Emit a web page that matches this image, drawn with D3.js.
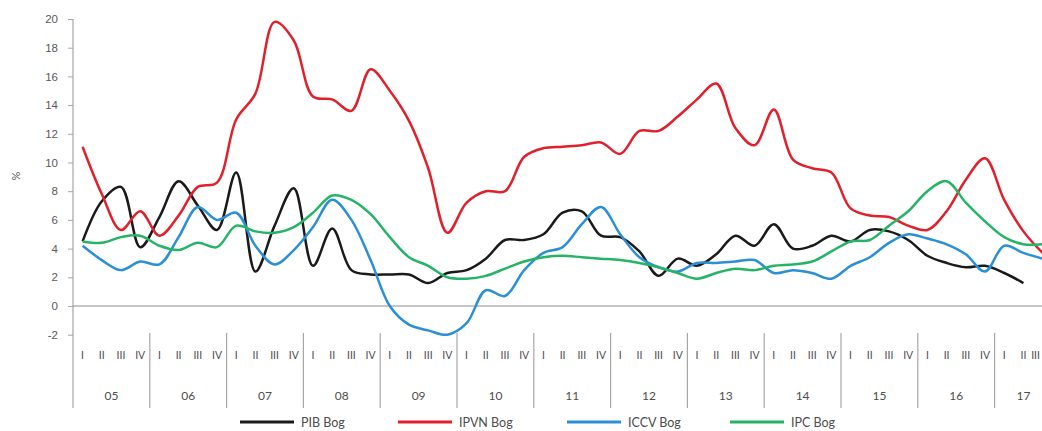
<!DOCTYPE html>
<html>
<head>
<meta charset="utf-8">
<script src="https://cdn.jsdelivr.net/npm/d3@7.9.0/dist/d3.min.js"></script>
<style>
  body { margin: 0; background: #fff; }
  svg { display: block; font-family: Lato, "Open Sans", sans-serif; }
</style>
</head>
<body>
<svg id="chart" width="1042" height="431"></svg>
<script>
// years and quarter labels for the category axis (2005 Q1 .. 2017 Q3)
const years = ['05', '06', '07', '08', '09', '10', '11', '12', '13', '14', '15', '16', '17'];
const quarters = ['I', 'II', 'III', 'IV'];
const yTicks = [-2, 0, 2, 4, 6, 8, 10, 12, 14, 16, 18, 20];

// series values, one per quarter
const pib = [4.5, 7.3, 8.3, 4.1, 6.2, 8.7, 7.0, 5.3, 9.3, 2.4, 5.6, 8.2, 2.8, 5.4, 2.5, 2.2,
  2.2, 2.2, 1.6, 2.3, 2.5, 3.3, 4.6, 4.6, 5.0, 6.5, 6.6, 4.9, 4.8, 3.8, 2.1, 3.3,
  2.8, 3.6, 4.9, 4.2, 5.7, 4.0, 4.2, 4.9, 4.5, 5.3, 5.2, 4.6, 3.5, 3.0, 2.7, 2.8,
  2.3, 1.6];
const ipvn = [11.1, 7.8, 5.3, 6.6, 4.9, 6.3, 8.3, 8.6, 13.0, 14.8, 19.8, 18.5, 14.6, 14.4, 13.6, 16.5,
  15.0, 12.9, 9.6, 5.1, 7.2, 8.0, 8.0, 10.4, 11.0, 11.1, 11.2, 11.4, 10.6, 12.2, 12.2, 13.2,
  14.4, 15.5, 12.4, 11.2, 13.7, 10.2, 9.6, 9.3, 6.8, 6.3, 6.2, 5.6, 5.3, 6.6, 8.8, 10.3,
  7.4, 5.2, 3.7];
const iccv = [4.2, 3.2, 2.5, 3.1, 2.9, 4.8, 6.9, 6.0, 6.5, 4.2, 2.9, 3.9, 5.5, 7.4, 6.0, 3.2,
  0.0, -1.3, -1.7, -2.0, -1.2, 1.1, 0.7, 2.5, 3.7, 4.1, 5.7, 6.9, 5.0, 3.4, 2.7, 2.4,
  3.0, 3.0, 3.1, 3.2, 2.3, 2.5, 2.3, 1.9, 2.8, 3.4, 4.4, 5.0, 4.7, 4.3, 3.6, 2.4,
  4.2, 3.7, 3.3];
const ipc = [4.5, 4.4, 4.8, 4.9, 4.2, 3.9, 4.4, 4.1, 5.6, 5.2, 5.1, 5.5, 6.5, 7.7, 7.4, 6.4,
  4.8, 3.4, 2.8, 2.0, 1.9, 2.1, 2.6, 3.1, 3.4, 3.5, 3.4, 3.3, 3.2, 3.0, 2.7, 2.3,
  1.9, 2.3, 2.6, 2.5, 2.8, 2.9, 3.1, 3.8, 4.5, 4.6, 5.6, 6.6, 8.0, 8.7, 7.2, 5.9,
  4.8, 4.3, 4.3];

const seriesNames = ['PIB Bog', 'IPVN Bog', 'ICCV Bog', 'IPC Bog'];
const seriesColors = ['#1a1a1a', '#e0202c', '#2a8fd4', '#25b466'];

const categories = years.flatMap(y => quarters.map(q => ({ year: y, q, key: y + q }))).slice(0, 51);
const series = [pib, ipvn, iccv, ipc].map((values, i) => ({
  name: seriesNames[i], color: seriesColors[i], values
}));

const svg = d3.select('#chart');
const left = 73;
const W = 1042;

const xScale = d3.scaleBand()
  .domain(categories.map(d => d.key))
  .range([left, left + 19.2 * categories.length])
  .padding(0);

const yScale = d3.scaleLinear()
  .domain([-2, 20])
  .range([334.7, 19]);

const bw = xScale.bandwidth();
const cx = i => xScale(categories[i].key) + bw / 2;

// y axis (plain hyphen for negatives, like the original)
const yAxis = d3.axisLeft(yScale).tickValues(yTicks).tickSize(5).tickPadding(10)
  .tickFormat(d => String(d));
const yg = svg.append('g').attr('transform', `translate(${left},0)`).call(yAxis);
yg.select('.domain').remove();
yg.selectAll('line').attr('stroke', '#a6a6a6');
yg.selectAll('text').attr('fill', '#595959').style('font-size', '11.5px');

svg.append('line')
  .attr('x1', left).attr('x2', left)
  .attr('y1', yScale(20)).attr('y2', 408)
  .attr('stroke', '#a6a6a6').attr('stroke-width', 1.2);

svg.append('text')
  .attr('transform', 'translate(20,176) rotate(-90)')
  .attr('text-anchor', 'middle')
  .attr('fill', '#595959')
  .style('font-size', '11px')
  .text('%');

// zero line
svg.append('line')
  .attr('x1', left).attr('x2', W)
  .attr('y1', yScale(0)).attr('y2', yScale(0))
  .attr('stroke', '#8c8c8c').attr('stroke-width', 1.2);

// quarter labels (the last one is pulled inside the frame)
svg.append('g').selectAll('text')
  .data(categories)
  .join('text')
  .attr('x', (d, i) => Math.min(cx(i), W - 2))
  .attr('y', 359)
  .attr('text-anchor', (d, i) => cx(i) + 5 > W ? 'end' : 'middle')
  .attr('fill', '#4d4d4d')
  .style('font-size', '10.5px')
  .text(d => d.q);

// year separators and labels
const yearGroups = d3.groups(categories, d => d.year);
const yg2 = svg.append('g');
yearGroups.forEach(([yr, qs], i) => {
  const x0 = xScale(qs[0].key);
  const x1 = xScale(qs[qs.length - 1].key) + bw;
  if (i > 0) {
    yg2.append('line')
      .attr('x1', x0).attr('x2', x0)
      .attr('y1', 333).attr('y2', 408)
      .attr('stroke', '#a6a6a6').attr('stroke-width', 1.2);
  }
  yg2.append('text')
    .attr('x', (x0 + x1) / 2)
    .attr('y', 400)
    .attr('text-anchor', 'middle')
    .attr('fill', '#4d4d4d')
    .style('font-size', '12px')
    .text(yr);
});

// lines, smoothed like the spreadsheet original
const line = d3.line()
  .x((d, i) => cx(i))
  .y(d => yScale(d))
  .curve(d3.curveCatmullRom.alpha(0.5));

svg.append('g').selectAll('path')
  .data(series)
  .join('path')
  .attr('d', d => line(d.values))
  .attr('fill', 'none')
  .attr('stroke', d => d.color)
  .attr('stroke-width', 2.5)
  .attr('stroke-linejoin', 'round');

// legend
const legendX = [240, 398, 567, 730];
const legend = svg.append('g').selectAll('g')
  .data(series)
  .join('g')
  .attr('transform', (d, i) => `translate(${legendX[i]},422)`);
legend.append('line')
  .attr('x1', 0).attr('x2', 54)
  .attr('stroke', d => d.color).attr('stroke-width', 3);
legend.append('text')
  .attr('x', 61).attr('y', 4.5)
  .attr('fill', '#4d4d4d')
  .style('font-size', '12.5px')
  .text(d => d.name);
</script>
</body>
</html>
